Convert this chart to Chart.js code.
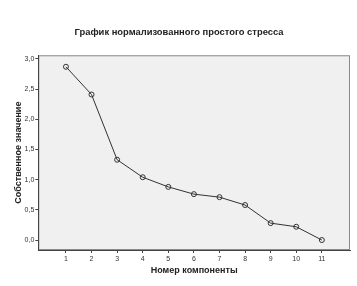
<!DOCTYPE html>
<html>
<head>
<meta charset="utf-8">
<script src="https://cdn.jsdelivr.net/npm/chart.js@4/dist/chart.umd.min.js"></script>
<style>
  html, body { margin: 0; padding: 0; background: #fff; }
  #wrap { width: 357px; height: 286px; }
</style>
</head>
<body>
<div id="wrap"><canvas id="scree"></canvas></div>
<script>
// ---------- Data ----------
const components = [1, 2, 3, 4, 5, 6, 7, 8, 9, 10, 11];
const eigenvalues = [2.87, 2.41, 1.33, 1.04, 0.88, 0.76, 0.71, 0.58, 0.28, 0.22, 0.0];
const yTicks = [0, 0.5, 1.0, 1.5, 2.0, 2.5, 3.0];

const chartTitle = "График нормализованного простого стресса";
const xTitle = "Номер компоненты";
const yTitle = "Собственное значение";

const FONT = "'Liberation Sans', Arial, sans-serif";
const INK = "#222";

// plot background + frame
const plotFrame = {
  id: "plotFrame",
  beforeDraw(chart) {
    const { ctx, chartArea: a } = chart;
    ctx.save();
    ctx.fillStyle = "#f0f0f0";
    ctx.fillRect(a.left, a.top, a.right - a.left, a.bottom - a.top);
    ctx.strokeStyle = "#8a8a8a";
    ctx.lineWidth = 1;
    ctx.strokeRect(a.left + 0.5, a.top + 0.5, a.right - a.left - 1, a.bottom - a.top - 1);
    ctx.restore();
  }
};

const ctx = document.getElementById("scree").getContext("2d");
new Chart(ctx, {
  type: "line",
  data: {
    datasets: [{
      data: components.map((c, i) => ({ x: c, y: eigenvalues[i] })),
      borderColor: "#333",
      borderWidth: 1,
      pointStyle: "circle",
      pointRadius: 2.5,
      pointBorderWidth: 1,
      pointBorderColor: "#333",
      pointBackgroundColor: "rgba(0,0,0,0)",
      tension: 0
    }]
  },
  options: {
    responsive: true,
    maintainAspectRatio: false,
    animation: false,
    layout: { padding: { left: 8, right: 7, top: 0, bottom: 0 } },
    plugins: {
      legend: { display: false },
      tooltip: { enabled: false },
      title: {
        display: true,
        text: chartTitle,
        color: INK,
        font: { family: FONT, size: 9.4, weight: "bold" },
        padding: { top: 27, bottom: 17 }
      }
    },
    scales: {
      x: {
        type: "linear",
        min: -0.08,
        max: 12.1,
        afterBuildTicks: (s) => { s.ticks = components.map(v => ({ value: v })); },
        afterFit: (s) => { s.height = 36; },
        grid: { drawOnChartArea: false, tickLength: 3, color: "#444" },
        border: { color: "#444" },
        ticks: {
          color: "#333",
          padding: 2,
          maxRotation: 0,
          font: { family: FONT, size: 7 }
        },
        title: {
          display: true,
          text: xTitle,
          color: INK,
          font: { family: FONT, size: 9, weight: "bold" },
          padding: { top: 0, bottom: 9.6 }
        }
      },
      y: {
        min: -0.165,
        max: 3.06,
        afterBuildTicks: (s) => { s.ticks = yTicks.map(v => ({ value: v })); },
        afterFit: (s) => { s.width = 30.3; },
        grid: { drawOnChartArea: false, tickLength: 3, color: "#444" },
        border: { color: "#444" },
        ticks: {
          color: "#333",
          padding: 1,
          font: { family: FONT, size: 7 },
          callback: (v) => v.toFixed(1).replace(".", ",")
        },
        title: {
          display: true,
          text: yTitle,
          color: INK,
          font: { family: FONT, size: 9, weight: "bold" },
          padding: { top: 5.6, bottom: 0 }
        }
      }
    }
  },
  plugins: [plotFrame]
});
</script>
</body>
</html>
